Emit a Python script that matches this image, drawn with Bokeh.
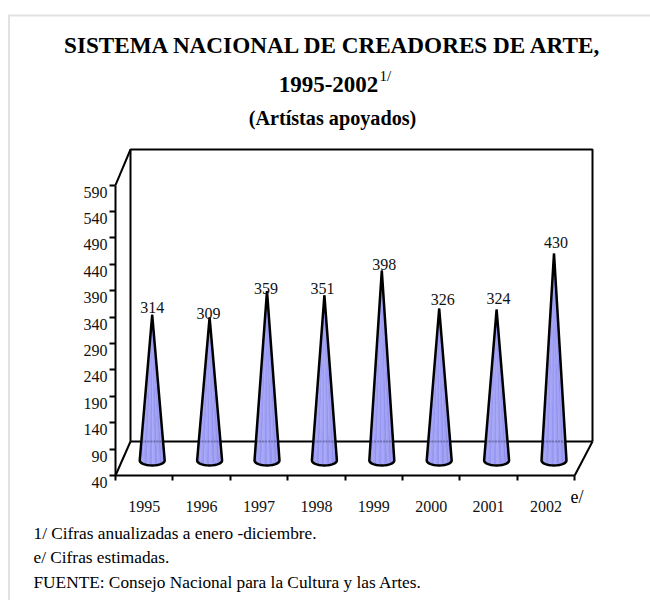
from bokeh.plotting import figure
from bokeh.models import Range1d, LinearAxis, FixedTicker, Label, BoxAnnotation
from bokeh.core.properties import value
from bokeh.embed import file_html
from bokeh.resources import INLINE
import math

years = ["1995", "1996", "1997", "1998", "1999", "2000", "2001", "2002"]
artists = [314, 309, 359, 351, 398, 326, 324, 430]
y_ticks = [40, 90, 140, 190, 240, 290, 340, 390, 440, 490, 540, 590]

SERIF = "Liberation Serif"
W, H = 650, 600
LEFT, BOTTOM = 115, 475                # page pixels of the chart's axes
PX_X = 57.4                            # pixels per category
PX_Y = 0.528                           # pixels per artist
BASE_FIX = 0.37                        # em, raises text onto the wanted baseline


def X(px):
    return (px - LEFT) / PX_X


def Y(py):
    return 40 + (BOTTOM - py) / PX_Y


p = figure(width=W, height=H, output_backend="svg", toolbar_location=None,
           x_range=Range1d(X(0), X(W)), y_range=Range1d(Y(H), Y(0)),
           x_axis_location=None, y_axis_location=None, tools="",
           min_border=0, outline_line_color=None)
p.xgrid.visible = False
p.ygrid.visible = False

# y axis: tick labels sit a little below their ticks in the source
shift = 7 / PX_Y
p.extra_y_ranges["labels"] = Range1d(Y(H) + shift, Y(0) + shift)
label_axis = LinearAxis(y_range_name="labels", ticker=FixedTicker(ticks=y_ticks), fixed_location=0,
                        axis_line_color=None, major_tick_line_color=None, minor_tick_line_color=None,
                        major_tick_out=0, major_tick_in=0, minor_tick_out=0, minor_tick_in=0,
                        major_label_standoff=8, major_label_text_font=SERIF,
                        major_label_text_font_size="16px", major_label_text_color="#111111")
p.add_layout(label_axis, "left")
tick_axis = LinearAxis(ticker=FixedTicker(ticks=y_ticks), bounds=(40, 590), fixed_location=0,
                       axis_line_color="black", axis_line_width=2,
                       major_tick_line_color="black", major_tick_line_width=2,
                       major_tick_out=6, major_tick_in=0, minor_tick_line_color=None,
                       major_label_overrides={t: "" for t in y_ticks})
p.add_layout(tick_axis, "left")

# x axis: labels centred in a category, ticks on the boundaries
centres = [i + 0.5 for i in range(len(years))]
bounds = [float(i) for i in range(len(years) + 1)]
x_axis = LinearAxis(ticker=FixedTicker(ticks=centres, minor_ticks=bounds), bounds=(0, len(years)),
                    fixed_location=40,
                    axis_line_color="black", axis_line_width=2,
                    major_tick_line_color=None, major_tick_out=0, major_tick_in=0,
                    minor_tick_line_color="black", minor_tick_line_width=2,
                    minor_tick_out=5, minor_tick_in=0,
                    major_label_standoff=20, major_label_text_font=SERIF,
                    major_label_text_font_size="16px", major_label_text_color="#111111",
                    major_label_overrides=dict(zip(centres, years)))
p.add_layout(x_axis, "below")

# 3D box
front_r = len(years)
back_l, back_r = X(130), X(592)
floor_back, wall_top = Y(441), Y(149)
p.multi_line(xs=[[0, back_l], [back_l, back_l, back_r, back_r], [back_l, back_r], [front_r, back_r]],
             ys=[[590, wall_top], [floor_back, wall_top, wall_top, floor_back],
                 [floor_back, floor_back], [40, floor_back]],
             line_color="black", line_width=2)
p.line(x=[0, back_l], y=[40, floor_back], line_color="black", line_width=2)

# cones
depth_x, depth_y = 8 / PX_X, 16 / PX_Y
half_w, base_y, base_h = 12.5 / PX_X, Y(460), 5 / PX_Y
stripes = ["#7f7fe0", "#8d8dea", "#9a9af2", "#a4a4f8", "#9696ee", "#a6a6fa", "#9898f0",
           "#a6a6fa", "#9494ec", "#a2a2f6", "#9292ea", "#9c9cf2", "#8a8ae6", "#7c7cdc"]
n = len(stripes)
fx, fy, fc, ox, oy = [], [], [], [], []
for c, v in zip(centres, artists):
    cx, tip = c + depth_x, v + depth_y
    ex = [cx - half_w * math.cos(math.pi * k / n) for k in range(n + 1)]
    ey = [base_y - base_h * math.sin(math.pi * k / n) for k in range(n + 1)]
    for k in range(n):
        fx.append([cx, ex[k], ex[k + 1]])
        fy.append([tip, ey[k], ey[k + 1]])
        fc.append(stripes[k])
    ox.append([cx] + ex + [cx])
    oy.append([tip] + ey + [tip])
p.patches(xs=fx, ys=fy, fill_color=fc, line_color=fc, line_width=0.5)
p.multi_line(xs=ox, ys=oy, line_color="black", line_width=2.5, line_join="round")
p.multi_line(xs=[[c + depth_x - 0.19, c + depth_x + 0.19] for c in centres],
             ys=[[floor_back, floor_back] for _ in centres],
             line_color="#222244", line_alpha=0.35, line_width=2, line_dash="2 1")

# value labels: hand placed in the source, so each has its own nudge from its cone's tip
nudge_x = [0, -1, -1, -2, 2.5, 3.5, 2, 2]
nudge_y = [1, -2, -3, 1, 0, 3, 5, 5]
p.text(x=[c + depth_x + dx / PX_X for c, dx in zip(centres, nudge_x)],
       y=[v + depth_y + (dy + BASE_FIX * 16) / PX_Y for v, dy in zip(artists, nudge_y)],
       text=[str(v) for v in artists], text_font=value(SERIF), text_font_size="16px",
       text_align="center", text_baseline="alphabetic", text_color="#111111")


def label(text, px, py, size, align="left", style="normal"):
    p.add_layout(Label(x=X(px), y=Y(py - BASE_FIX * size), text=text, text_font=SERIF,
                       text_font_size=f"{size}px", text_align=align, text_baseline="alphabetic",
                       text_font_style=style, text_color="black"))


label("SISTEMA NACIONAL DE CREADORES DE ARTE,", 333, 53, 23.2, "center", "bold")
label("1995-2002", 328, 93, 23, "center", "bold")
label("1/", 379, 81, 15)
label("(Artístas apoyados)", 332, 125, 20.2, "center", "bold")
label("e/", 570, 503, 18)
label("1/ Cifras anualizadas a enero -diciembre.", 33, 539, 17.3)
label("e/ Cifras estimadas.", 33, 563, 17.3)
label("FUENTE: Consejo Nacional para la Cultura y las Artes.", 33, 588, 17.3)

# light frame at the top and left of the page
p.add_layout(BoxAnnotation(left=X(7.5), right=X(9.5), top=Y(15), bottom=Y(600),
                           fill_color="#e2e2e2", fill_alpha=1, line_color=None))
p.add_layout(BoxAnnotation(left=X(7.5), right=X(650), top=Y(16), bottom=Y(14),
                           fill_color="#e2e2e2", fill_alpha=1, line_color=None))

open("out.html", "w").write(file_html(p, INLINE))
